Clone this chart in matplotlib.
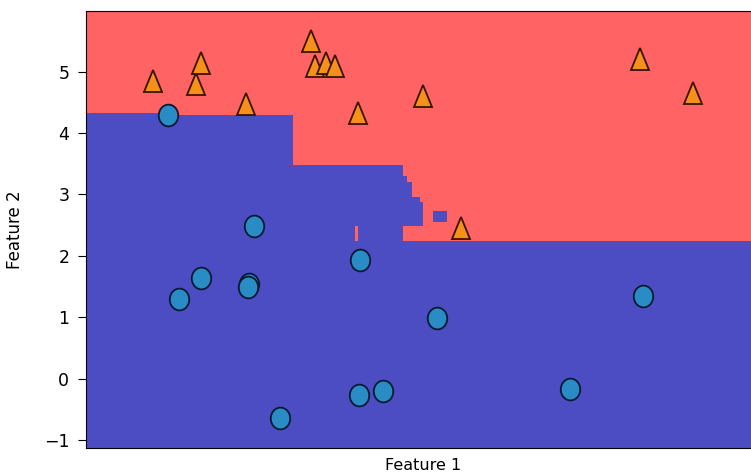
import matplotlib
matplotlib.use("Agg")
import matplotlib.pyplot as plt
from matplotlib.markers import MarkerStyle
from matplotlib.transforms import Affine2D
import numpy as np

# forge dataset points
feat1 = [9.96346605, 11.0329545, 11.54155807, 8.69289001, 8.1062269, 8.30988863,
         11.93027136, 9.67284681, 8.34810316, 8.67494727, 9.17748385, 10.24028948,
         8.68937095, 8.92229526, 9.49123469, 9.25694192, 7.99815287, 8.18378052,
         8.7337095, 9.32298256, 10.06393839, 9.50048972, 8.34468785, 9.50169345,
         9.15072323, 11.563957]
feat2 = [4.59676542, -0.16816717, 5.21116083, 1.54322016, 4.28695977, 4.80623966,
         4.64866327, -0.20283165, 5.13415623, 4.47573059, 5.09283177, 2.45544401,
         1.48709629, -0.63993225, 4.33224792, 5.13284858, 4.8525051, 1.29564214,
         2.49162431, 5.09840649, 0.99078055, -0.26430318, 1.63824349, 1.93824624,
         5.49832246, 1.3389402]
labels = [1, 0, 1, 0, 0, 1, 1, 0, 1, 1, 1, 1, 0, 0, 1, 1, 1, 0, 0, 1, 0, 0, 0, 0, 1, 0]

# decision boundary (class 1 above threshold)
x_min, x_max = 7.509, 12.419
y_min, y_max = -1.129, 5.987
boundary_x = [7.509, 8.19, 9.02, 9.818, 12.419]
boundary_y = [4.32, 4.29, 3.48, 2.234]

# islands: (x0, x1, y0, y1)
blue_x0 = [9.818, 9.847, 9.883, 9.942, 10.036]
blue_x1 = [9.847, 9.883, 9.942, 9.963, 10.138]
blue_y0 = [2.48, 2.48, 2.48, 2.48, 2.545]
blue_y1 = [3.298, 3.200, 2.954, 2.872, 2.725]
red_x0 = [9.468]
red_x1 = [9.490]
red_y0 = [2.234]
red_y1 = [2.48]

RED = "#ff6363"
BLUE = "#4c4cc3"

fig = plt.figure(figsize=(7.51, 4.75), dpi=100)
ax = fig.add_axes([0.1145, 0.0568, 0.8975, 0.92])

bx = np.array(boundary_x)
by = np.array(boundary_y + [boundary_y[-1]])
ax.fill_between(bx, by, y_max, step="post", color=RED, linewidth=0)
ax.fill_between(bx, y_min, by, step="post", color=BLUE, linewidth=0)

ax.bar(blue_x0, np.subtract(blue_y1, blue_y0), width=np.subtract(blue_x1, blue_x0),
       bottom=blue_y0, align="edge", color=BLUE, linewidth=0)
ax.bar(red_x0, np.subtract(red_y1, red_y0), width=np.subtract(red_x1, red_x0),
       bottom=red_y0, align="edge", color=RED, linewidth=0)

f1 = np.array(feat1)
f2 = np.array(feat2)
lab = np.array(labels)
circ = MarkerStyle("o", transform=Affine2D().scale(1.0, 1.12))
tri = MarkerStyle("^", transform=Affine2D().scale(0.9, 1.12))
ax.plot(f1[lab == 0], f2[lab == 0], marker=circ, ms=14, color="#2a8cc4",
        markeredgecolor="#0b1a33", markeredgewidth=1.3, linestyle="none")
ax.plot(f1[lab == 1], f2[lab == 1], marker=tri, ms=14, color="#f5901a",
        markeredgecolor="#3a1200", markeredgewidth=1.3, linestyle="none")

ax.set_xlim(x_min, x_max)
ax.set_ylim(y_min, y_max)
ax.set_xticks([])
ax.set_yticks([-1, 0, 1, 2, 3, 4, 5])
ax.tick_params(labelsize=12.5, length=6, pad=6)
ax.set_xlabel("Feature 1", fontsize=11.5, labelpad=7)
ax.set_ylabel("Feature 2", fontsize=12, labelpad=14)

fig.savefig("out.png", dpi=100)
